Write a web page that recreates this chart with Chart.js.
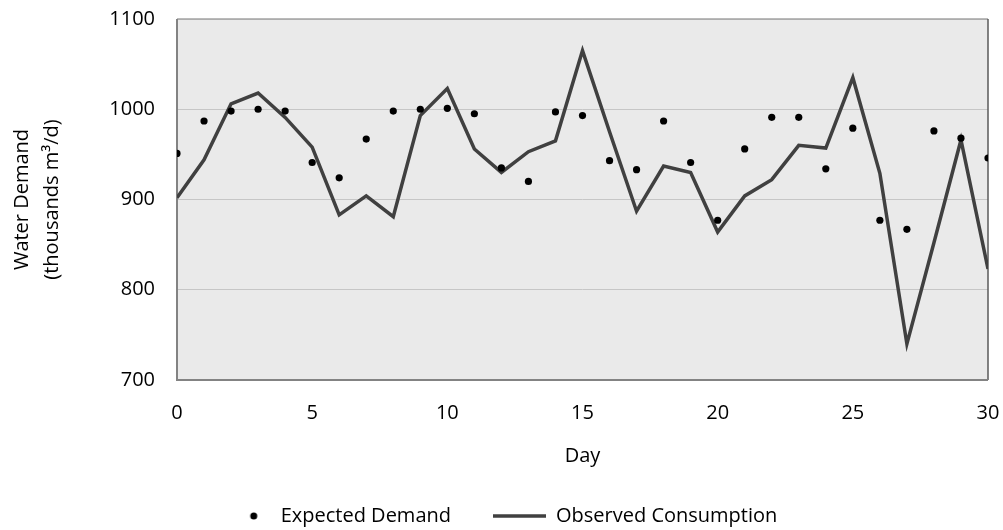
<!DOCTYPE html>
<html>
<head>
<meta charset="utf-8">
<script src="https://cdn.jsdelivr.net/npm/chart.js@4.4.1/dist/chart.umd.min.js"></script>
<style>
  html, body { margin: 0; padding: 0; background: #fff; }
</style>
</head>
<body>
<canvas id="demandChart" width="1003" height="530"></canvas>
<script>
// Data
const days = [0, 1, 2, 3, 4, 5, 6, 7, 8, 9, 10, 11, 12, 13, 14, 15,
  16, 17, 18, 19, 20, 21, 22, 23, 24, 25, 26, 27, 28, 29, 30];
const expectedDemand = [951, 987, 998, 1000, 998, 941, 924, 967, 998, 1000, 1001,
  995, 935, 920, 997, 993, 943, 933, 987, 941, 877, 956, 991, 991, 934, 979,
  877, 867, 976, 968, 946];
const observedConsumption = [902, 944, 1006, 1018, 991, 958, 883, 904, 881, 993, 1023,
  956, 930, 953, 965, 1065, 975, 887, 937, 930, 864, 904, 922, 960, 957, 1035,
  929, 740, 852, 966, 823];
const xTicks = { min: 0, max: 30, step: 5 };
const yTicks = { min: 700, max: 1100, step: 100 };
const seriesNames = ['Expected Demand', 'Observed Consumption'];
const xTitle = 'Day';
const yTitle = ['Water Demand', '(thousands m\u00b3/d)'];

const FONT = '"Open Sans", "DejaVu Sans", sans-serif';
const LEGEND_BOX = 60;

// small legend icons (Chart.js draws canvases given as pointStyle)
function makeIcon(kind) {
  const c = document.createElement('canvas');
  c.width = LEGEND_BOX;
  c.height = 8;
  const g = c.getContext('2d');
  if (kind === 'dot') {
    g.fillStyle = '#000';
    g.beginPath();
    g.arc(43, 4, 3.5, 0, Math.PI * 2);
    g.fill();
  } else {
    g.fillStyle = '#404040';
    g.fillRect(LEGEND_BOX - 53, 2.25, 53, 3.5);
  }
  return c;
}
const dotIcon = makeIcon('dot');
const lineIcon = makeIcon('line');

// grey plot background and frame
const plotFrame = {
  id: 'plotFrame',
  beforeDraw(chart) {
    const { ctx, chartArea: a } = chart;
    ctx.save();
    ctx.fillStyle = '#EAEAEA';
    ctx.fillRect(a.left, a.top, a.right - a.left, a.bottom - a.top);
    ctx.restore();
  },
  beforeDatasetsDraw(chart) {
    const { ctx, chartArea: a } = chart;
    ctx.save();
    ctx.lineWidth = 1.5;
    ctx.strokeStyle = '#A3A3A3';
    ctx.beginPath(); ctx.moveTo(a.left, a.top); ctx.lineTo(a.right, a.top); ctx.stroke();
    ctx.strokeStyle = '#5A5A5A';
    ctx.beginPath(); ctx.moveTo(a.right, a.top); ctx.lineTo(a.right, a.bottom); ctx.stroke();
    ctx.lineWidth = 2;
    ctx.strokeStyle = '#838383';
    ctx.beginPath(); ctx.moveTo(a.left, a.top); ctx.lineTo(a.left, a.bottom); ctx.lineTo(a.right, a.bottom); ctx.stroke();
    ctx.restore();
  }
};

new Chart(document.getElementById('demandChart'), {
  type: 'line',
  data: {
    datasets: [{
      label: seriesNames[0],
      data: days.map((d, i) => ({ x: d, y: expectedDemand[i] })),
      showLine: false,
      pointRadius: 3.6,
      pointBackgroundColor: '#000',
      pointBorderWidth: 0,
      borderColor: '#000'
    }, {
      label: seriesNames[1],
      data: days.map((d, i) => ({ x: d, y: observedConsumption[i] })),
      borderColor: '#404040',
      borderWidth: 3.5,
      pointRadius: 0,
      tension: 0,
      borderJoinStyle: 'miter'
    }]
  },
  options: {
    responsive: false,
    animation: false,
    events: [],
    layout: { padding: { left: 0, right: 15, top: 19, bottom: -6 } },
    scales: {
      x: {
        type: 'linear',
        min: xTicks.min,
        max: xTicks.max,
        // invisible tick marks keep the labels away from the frame
        grid: { color: 'transparent', drawTicks: true, tickLength: 21, tickColor: 'transparent' },
        border: { display: false },
        ticks: { stepSize: xTicks.step, padding: 0, color: '#000', font: { family: FONT, size: 20 },
          callback: v => String(v) },
        title: { display: true, text: xTitle, color: '#000', font: { family: FONT, size: 20 }, padding: { top: 0, bottom: 3 } },
        afterFit(scale) { scale.height = 91; }
      },
      y: {
        min: yTicks.min,
        max: yTicks.max,
        grid: { color: '#C6C6C6', lineWidth: 1, drawTicks: true, tickLength: 22, tickColor: 'transparent' },
        border: { display: false },
        ticks: { stepSize: yTicks.step, padding: 0, color: '#000', font: { family: FONT, size: 20 },
          callback: v => String(v) },
        title: { display: true, text: yTitle, color: '#000', font: { family: FONT, size: 20, lineHeight: '30px' }, padding: { top: 7.5, bottom: 0 } },
        afterFit(scale) { scale.width = 177; }
      }
    },
    plugins: {
      legend: {
        position: 'bottom',
        labels: {
          usePointStyle: true,
          pointStyleWidth: LEGEND_BOX,
          padding: 35,
          color: '#000',
          font: { family: FONT, size: 20 },
          generateLabels: (chart) => [dotIcon, lineIcon].map((icon, i) => ({
            text: seriesNames[i],
            pointStyle: icon,
            fillStyle: 'transparent',
            strokeStyle: 'transparent',
            lineWidth: 0,
            hidden: false,
            datasetIndex: i,
            fontColor: '#000'
          }))
        }
      },
      tooltip: { enabled: false }
    }
  },
  plugins: [plotFrame]
});
</script>
</body>
</html>
